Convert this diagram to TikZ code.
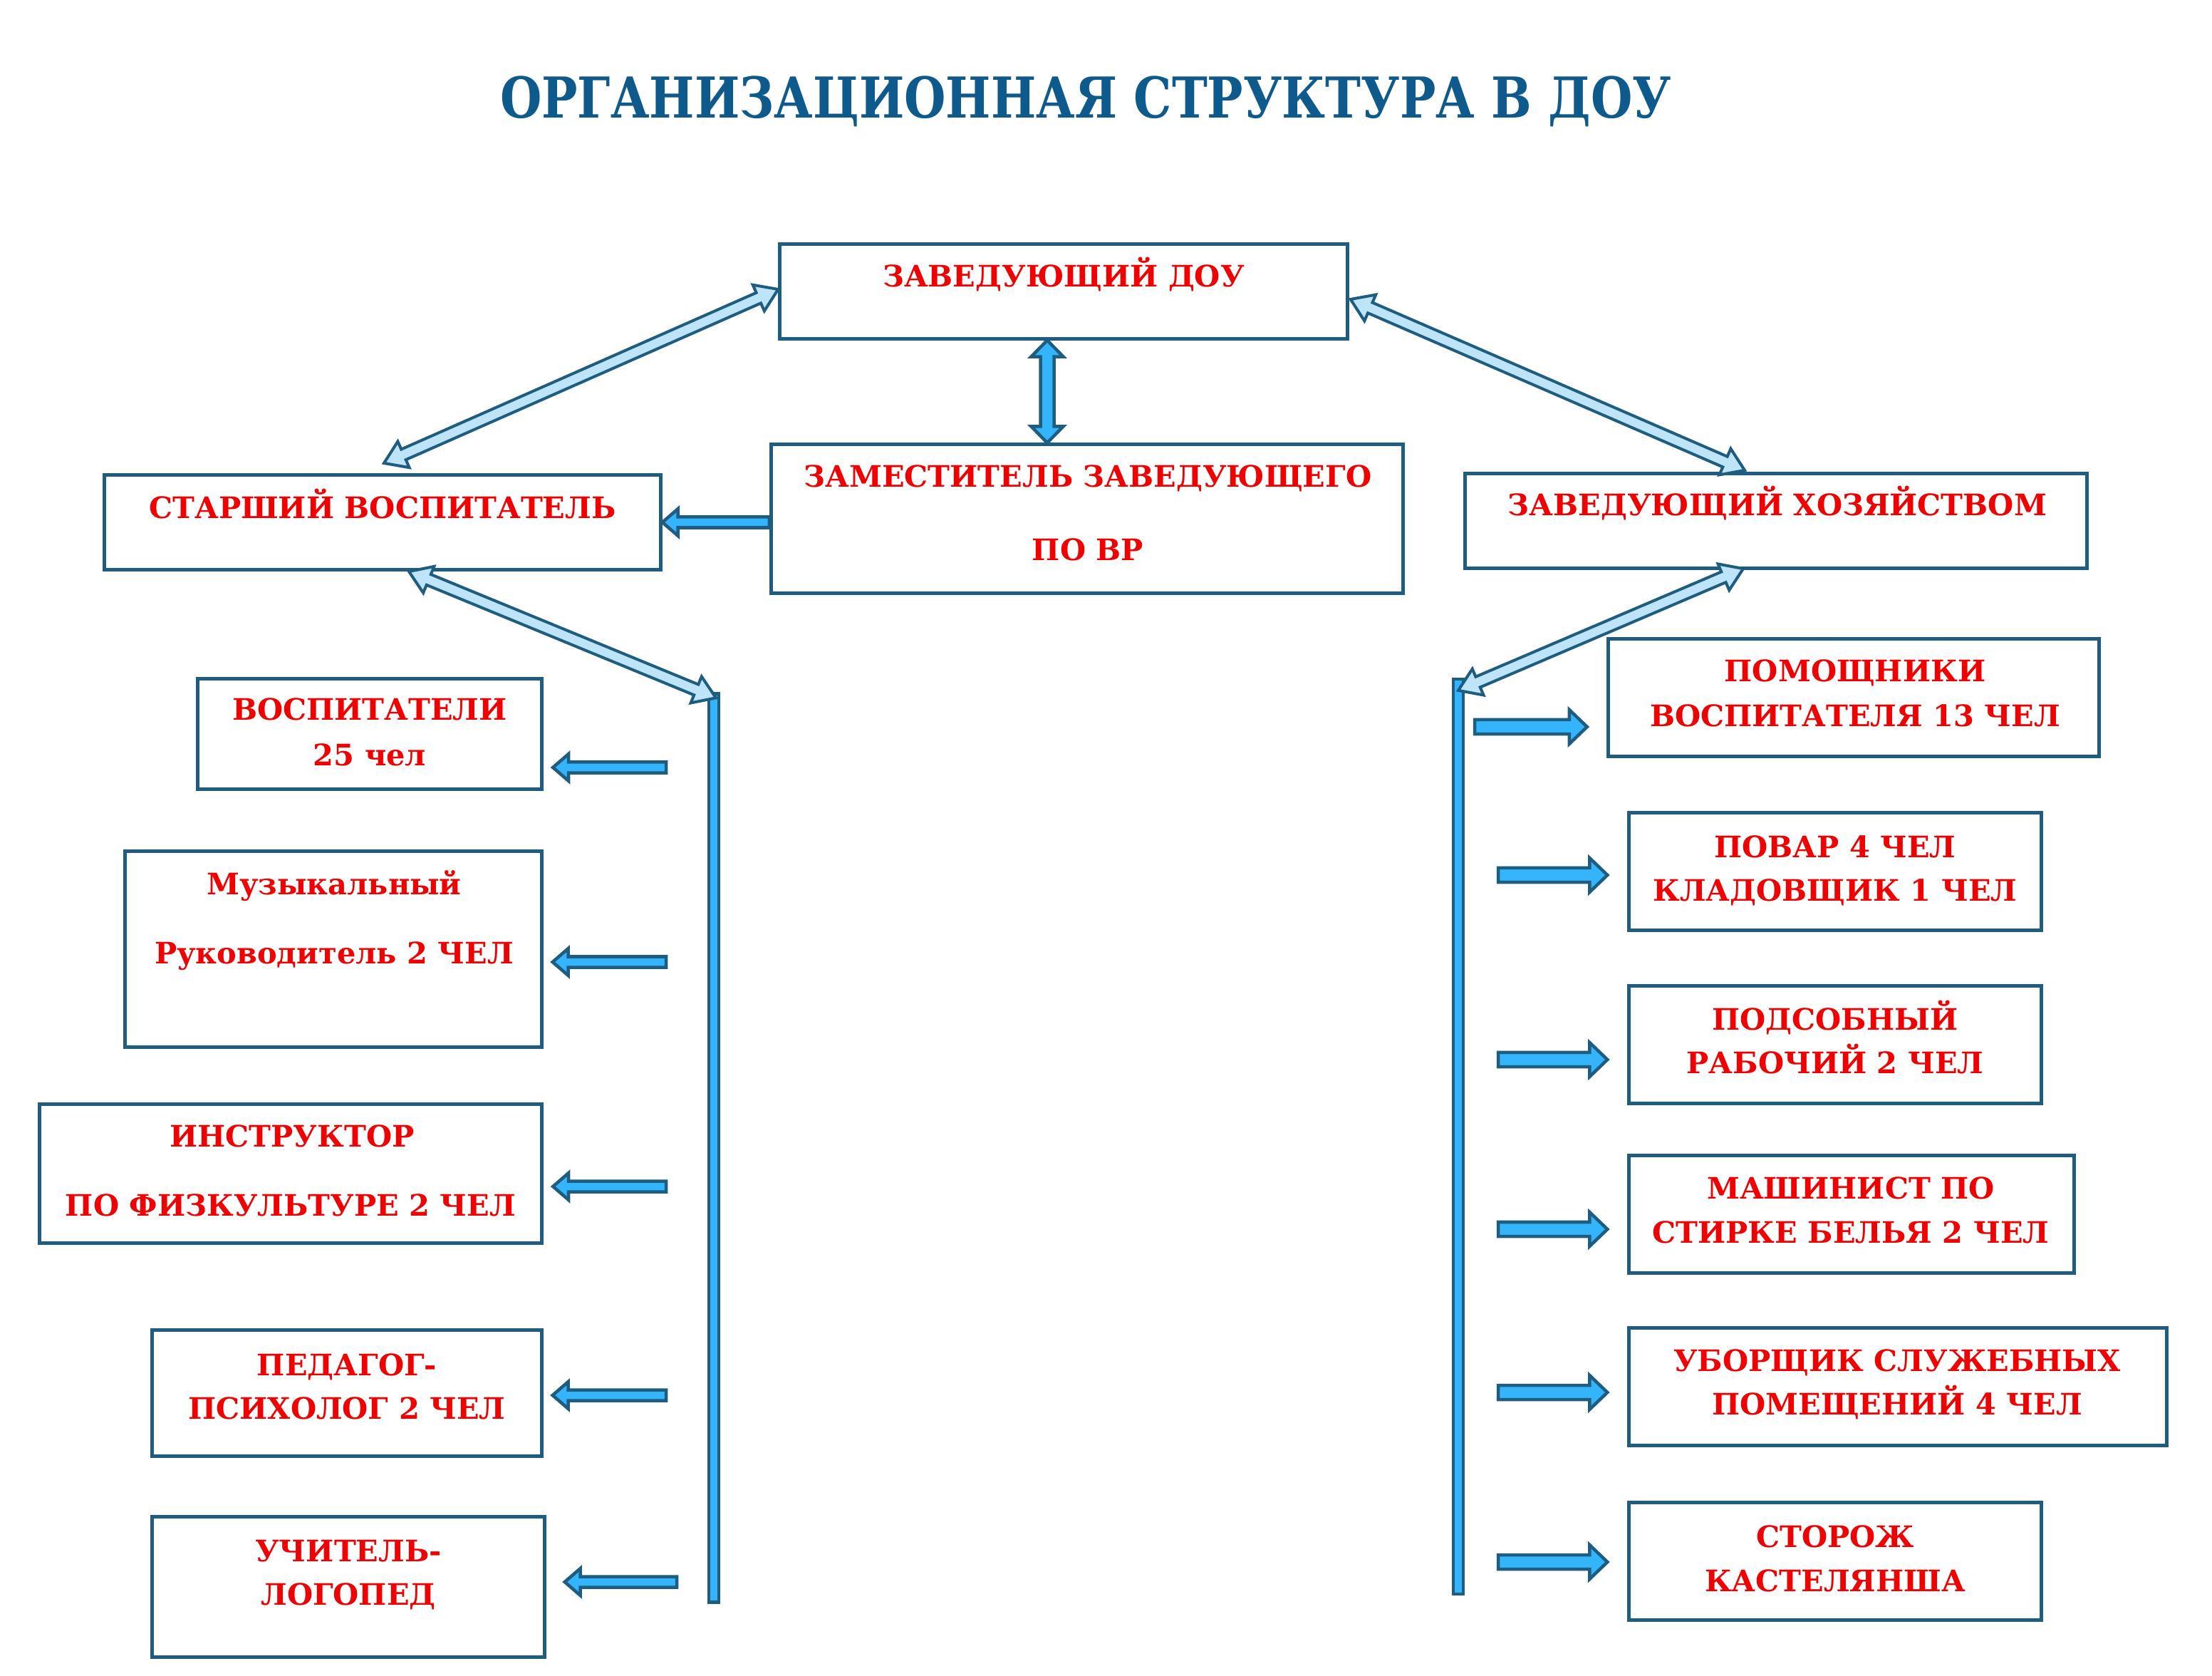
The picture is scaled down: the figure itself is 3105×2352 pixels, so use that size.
\documentclass[tikz,border=0pt]{standalone}
\usepackage{fontspec}
\setmainfont{DejaVu Serif}
\usetikzlibrary{calc}
\definecolor{bdr}{RGB}{30,92,128}
\definecolor{fillb}{RGB}{52,180,250}
\definecolor{lightb}{RGB}{190,228,250}
\definecolor{ttl}{RGB}{14,90,140}
\definecolor{txtred}{RGB}{240,0,0}
\newcommand\sarr[6]{%
  \coordinate (q) at ($(#3)!#6!(#2)$);
  \path[#1] ($(#2)!#4!90:(#3)$) -- ($(q)!#4!90:(#3)$) -- ($(q)!#5!90:(#3)$) -- (#3)
    -- ($(q)!#5!-90:(#3)$) -- ($(q)!#4!-90:(#3)$) -- ($(#2)!#4!-90:(#3)$) -- cycle;}
\newcommand\darr[6]{%
  \coordinate (q1) at ($(#2)!#6!(#3)$);
  \coordinate (q2) at ($(#3)!#6!(#2)$);
  \path[#1] (#2) -- ($(q1)!#5!90:(#3)$) -- ($(q1)!#4!90:(#3)$) -- ($(q2)!#4!90:(#3)$)
    -- ($(q2)!#5!90:(#3)$) -- (#3) -- ($(q2)!#5!-90:(#3)$) -- ($(q2)!#4!-90:(#3)$)
    -- ($(q1)!#4!-90:(#3)$) -- ($(q1)!#5!-90:(#3)$) -- cycle;}
\begin{document}
\begin{tikzpicture}[x=0.01cm,y=-0.01cm,
  box/.style={draw=bdr, line width=0.05cm, fill=white, rectangle, inner sep=0pt},
  lbl/.style={text=txtred, font=\fontsize{11.8}{14}\selectfont\bfseries, inner sep=0pt, anchor=base},
  ttlstyle/.style={text=ttl, font=\fontsize{22.5}{26}\selectfont\bfseries, inner sep=0pt, anchor=base},
  bar/.style={draw=bdr, line width=0.045cm, fill=fillb, inner sep=0pt, minimum width=0.14cm, rectangle},
  fat/.style={draw=bdr, line width=0.045cm, fill=fillb, line join=miter},
  thin/.style={draw=bdr, line width=0.04cm, fill=lightb, line join=miter}]
\useasboundingbox (0,0) rectangle (3105,2352);
\fill[white] (0,0) rectangle (3105,2352);

\node[ttlstyle] (title) at (1524,166) {\resizebox{16.43cm}{\height}{ОРГАНИЗАЦИОННАЯ СТРУКТУРА В ДОУ}};

% top boxes
\node[box, minimum width=7.96cm, minimum height=1.32cm] (b1) at (1493,409) {};
\node[box, minimum width=7.80cm, minimum height=1.33cm] (b2) at (537,733) {};
\node[box, minimum width=8.87cm, minimum height=2.08cm] (b3) at (1526,728) {};
\node[box, minimum width=8.72cm, minimum height=1.33cm] (b4) at (2493,731) {};
% left column
\node[box, minimum width=4.83cm, minimum height=1.55cm] (b5) at (519,1030) {};
\node[box, minimum width=5.84cm, minimum height=2.75cm] (b6) at (468,1332) {};
\node[box, minimum width=7.05cm, minimum height=1.94cm] (b7) at (408,1647) {};
\node[box, minimum width=5.46cm, minimum height=1.76cm] (b8) at (487,1955) {};
\node[box, minimum width=5.50cm, minimum height=1.97cm] (b9) at (489,2227) {};
% right column
\node[box, minimum width=6.89cm, minimum height=1.64cm] (b10) at (2602,979) {};
\node[box, minimum width=5.78cm, minimum height=1.65cm] (b11) at (2576,1223) {};
\node[box, minimum width=5.78cm, minimum height=1.64cm] (b12) at (2576,1466) {};
\node[box, minimum width=6.24cm, minimum height=1.64cm] (b13) at (2599,1704) {};
\node[box, minimum width=7.54cm, minimum height=1.65cm] (b14) at (2664,1946) {};
\node[box, minimum width=5.78cm, minimum height=1.64cm] (b15) at (2576,2191) {};

% bars
\node[bar, minimum height=12.74cm] (barL) at (1002,1611) {};
\node[bar, minimum height=12.83cm] (barR) at (2047,1595) {};

% texts
\node[lbl] (t1) at (1493,403) {ЗАВЕДУЮЩИЙ ДОУ};
\node[lbl] (t2) at (537,728) {СТАРШИЙ ВОСПИТАТЕЛЬ};
\node[lbl] (t3a) at (1527,684) {ЗАМЕСТИТЕЛЬ ЗАВЕДУЮЩЕГО};
\node[lbl] (t3b) at (1527,787) {ПО ВР};
\node[lbl] (t4) at (2495,724) {ЗАВЕДУЮЩИЙ ХОЗЯЙСТВОМ};
\node[lbl] (t5a) at (519,1011) {ВОСПИТАТЕЛИ};
\node[lbl] (t5b) at (519,1074) {25 чел};
\node[lbl] (t6a) at (469,1255) {Музыкальный};
\node[lbl] (t6b) at (469,1352) {Руководитель 2 ЧЕЛ};
\node[lbl] (t7a) at (410,1609) {ИНСТРУКТОР};
\node[lbl] (t7b) at (408,1706) {ПО ФИЗКУЛЬТУРЕ 2 ЧЕЛ};
\node[lbl] (t8a) at (487,1930) {ПЕДАГОГ-};
\node[lbl] (t8b) at (487,1991) {ПСИХОЛОГ 2 ЧЕЛ};
\node[lbl] (t9a) at (489,2191) {УЧИТЕЛЬ-};
\node[lbl] (t9b) at (489,2252) {ЛОГОПЕД};
\node[lbl] (t10a) at (2604,957) {ПОМОЩНИКИ};
\node[lbl] (t10b) at (2604,1019) {ВОСПИТАТЕЛЯ 13 ЧЕЛ};
\node[lbl] (t11a) at (2576,1203) {ПОВАР 4 ЧЕЛ};
\node[lbl] (t11b) at (2576,1264) {КЛАДОВЩИК 1 ЧЕЛ};
\node[lbl] (t12a) at (2576,1445) {ПОДСОБНЫЙ};
\node[lbl] (t12b) at (2576,1506) {РАБОЧИЙ 2 ЧЕЛ};
\node[lbl] (t13a) at (2598,1682) {МАШИНИСТ ПО};
\node[lbl] (t13b) at (2598,1744) {СТИРКЕ БЕЛЬЯ 2 ЧЕЛ};
\node[lbl] (t14a) at (2663,1924) {УБОРЩИК СЛУЖЕБНЫХ};
\node[lbl] (t14b) at (2663,1985) {ПОМЕЩЕНИЙ 4 ЧЕЛ};
\node[lbl] (t15a) at (2576,2171) {СТОРОЖ};
\node[lbl] (t15b) at (2576,2233) {КАСТЕЛЯНША};

% connector end points
\coordinate (a1s) at ($(b1.west)+(0,-3)$);
\coordinate (a1e) at ($(b2.north)+(2,-14)$);
\coordinate (a2s) at ($(b1.east)+(2,11)$);
\coordinate (a2e) at ($(b4.north)+(-44,-2)$);
\coordinate (a3s) at ($(b1.south)+(-23,0)$);
\coordinate (a3e) at ($(b3.north)+(-56,0)$);
\coordinate (a4s) at ($(b3.west)+(0,5)$);
\coordinate (a4e) at (b2.east);
\coordinate (a5s) at ($(b2.south)+(37,0)$);
\coordinate (a5e) at ($(barL.north)+(3,8)$);
\coordinate (a6s) at ($(b4.south)+(-46,-2)$);
\coordinate (a6e) at ($(barR.north)+(0,18)$);

% main connectors
\darr{thin}{a1s}{a1e}{0.08cm}{0.2cm}{0.3cm}
\darr{thin}{a2s}{a2e}{0.08cm}{0.2cm}{0.3cm}
\darr{fat}{a3s}{a3e}{0.095cm}{0.225cm}{0.23cm}
\sarr{fat}{a4s}{a4e}{0.075cm}{0.19cm}{0.22cm}
\darr{thin}{a5s}{a5e}{0.08cm}{0.2cm}{0.3cm}
\darr{thin}{a6s}{a6e}{0.08cm}{0.2cm}{0.3cm}

% left small arrows
\coordinate (l5s) at (935,1077); \coordinate (l5e) at ($(b5.east |- l5s)+(13,0)$);
\coordinate (l6s) at (935,1350); \coordinate (l6e) at ($(b6.east |- l6s)+(13,0)$);
\coordinate (l7s) at (935,1665); \coordinate (l7e) at ($(b7.east |- l7s)+(13,0)$);
\coordinate (l8s) at (935,1958); \coordinate (l8e) at ($(b8.east |- l8s)+(13,0)$);
\coordinate (l9s) at (950,2220); \coordinate (l9e) at ($(b9.east |- l9s)+(26,0)$);
\foreach \i in {5,6,7,8,9}{\sarr{fat}{l\i s}{l\i e}{0.075cm}{0.19cm}{0.22cm}}

% right small arrows
\coordinate (r10s) at (2070,1020); \coordinate (r10e) at ($(b10.west |- r10s)+(-27,0)$);
\coordinate (r11s) at (2103,1228); \coordinate (r11e) at ($(b11.west |- r11s)+(-28,0)$);
\coordinate (r12s) at (2103,1487); \coordinate (r12e) at ($(b12.west |- r12s)+(-28,0)$);
\coordinate (r13s) at (2103,1725); \coordinate (r13e) at ($(b13.west |- r13s)+(-28,0)$);
\coordinate (r14s) at (2103,1954); \coordinate (r14e) at ($(b14.west |- r14s)+(-28,0)$);
\coordinate (r15s) at (2103,2192); \coordinate (r15e) at ($(b15.west |- r15s)+(-28,0)$);
\foreach \i in {10,11,12,13,14,15}{\sarr{fat}{r\i s}{r\i e}{0.1cm}{0.24cm}{0.25cm}}
\end{tikzpicture}
\end{document}
